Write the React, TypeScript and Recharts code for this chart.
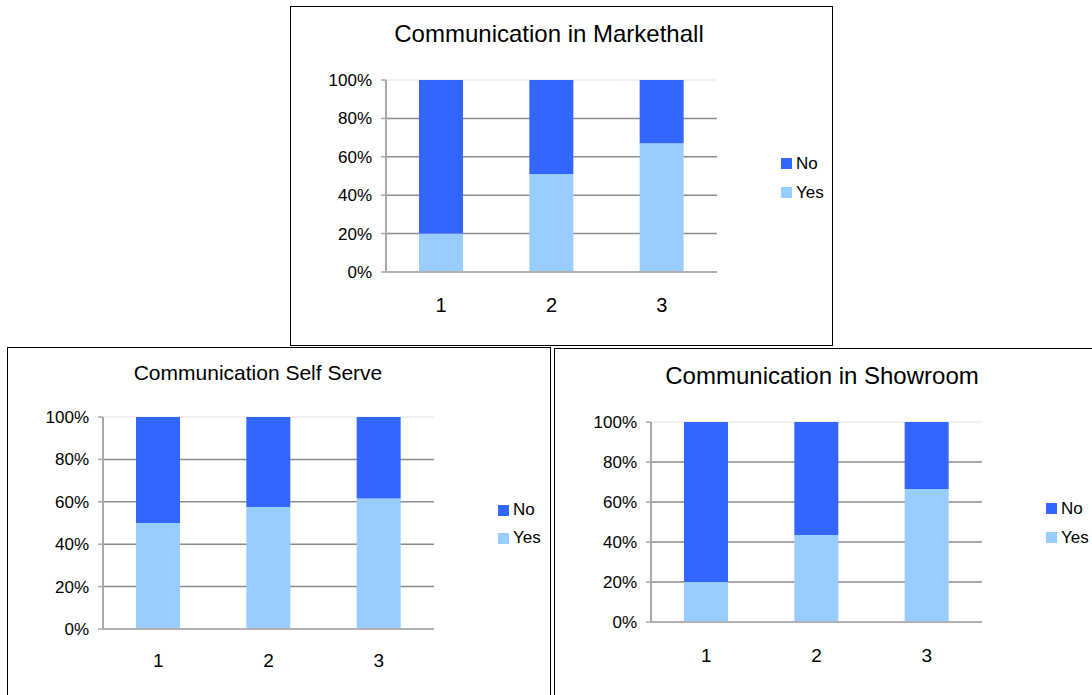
import React from 'react';
import { BarChart, Bar, XAxis, YAxis, CartesianGrid, Legend } from 'recharts';

const categories = ['1', '2', '3'];
const percentTicks = [0, 20, 40, 60, 80, 100];

const markethallYes = [20, 51, 67];
const markethallNo = [80, 49, 33];
const selfServeYes = [50, 57.5, 61.5];
const selfServeNo = [50, 42.5, 38.5];
const showroomYes = [20, 43.5, 66.5];
const showroomNo = [80, 56.5, 33.5];

const NO_COLOR = '#3366FF';
const YES_COLOR = '#99CCFF';
const FONT = '"Liberation Sans", Arial, Helvetica, sans-serif';

const toRows = (yes: number[], no: number[]) =>
  categories.map((name, i) => ({ name, Yes: yes[i], No: no[i] }));

type PanelProps = {
  title: string;
  rows: { name: string; Yes: number; No: number }[];
  box: { left: number; top: number; width: number; height: number };
  titleX: number;
  titleTop: number;
  titleSize: number;
  chartHeight: number;
  margin: { top: number; right: number; bottom: number };
  yWidth: number;
  xTickMargin: number;
  xFont: number;
  legendPos: { left: number; top: number; step: number };
};

function LegendBox({ step }: { step: number }) {
  const items = [
    { label: 'No', color: NO_COLOR },
    { label: 'Yes', color: YES_COLOR },
  ];
  return (
    <div style={{ fontFamily: FONT, fontSize: 17, color: '#000' }}>
      {items.map((it) => (
        <div key={it.label} style={{ height: step, display: 'flex', alignItems: 'center' }}>
          <span style={{ width: 11, height: 11, background: it.color, display: 'inline-block', marginRight: 4 }} />
          <span>{it.label}</span>
        </div>
      ))}
    </div>
  );
}

function Panel(p: PanelProps) {
  const innerWidth = p.box.width - 2;
  const plotTop = p.margin.top;
  return (
    <div
      style={{
        position: 'absolute',
        left: p.box.left,
        top: p.box.top,
        width: p.box.width,
        height: p.box.height,
        border: '1px solid #000',
        boxSizing: 'border-box',
        background: '#fff',
      }}
    >
      <div
        style={{
          position: 'absolute',
          left: p.titleX - 250,
          width: 500,
          top: p.titleTop,
          textAlign: 'center',
          fontFamily: FONT,
          fontSize: p.titleSize,
          lineHeight: `${p.titleSize}px`,
          color: '#000',
          whiteSpace: 'nowrap',
        }}
      >
        {p.title}
      </div>
      <BarChart
        width={innerWidth}
        height={p.chartHeight}
        data={p.rows}
        margin={{ top: p.margin.top, right: p.margin.right, bottom: p.margin.bottom, left: 0 }}
        barCategoryGap="30%"
      >
        <CartesianGrid
          vertical={false}
          horizontal={(g: any) => (
            <line
              key={`g-${g.y1}`}
              x1={g.x1}
              y1={g.y1}
              x2={g.x2}
              y2={g.y2}
              stroke={Math.abs(g.y1 - plotTop) < 1 ? '#ececec' : '#8a8a8a'}
              strokeWidth={1.5}
              fill="none"
            />
          )}
        />
        <XAxis
          dataKey="name"
          tickLine={false}
          tickSize={0}
          tickMargin={p.xTickMargin}
          height={40}
          axisLine={{ stroke: '#b0b0b0', strokeWidth: 2 }}
          tick={{ fill: '#000', fontSize: p.xFont, fontFamily: FONT }}
        />
        <YAxis
          domain={[0, 100]}
          ticks={percentTicks}
          interval={0}
          width={p.yWidth}
          tickFormatter={(v: number) => `${v}%`}
          tickSize={5}
          tickMargin={9}
          axisLine={{ stroke: '#a8a8a8', strokeWidth: 2 }}
          tickLine={{ stroke: '#a8a8a8', strokeWidth: 1.5 }}
          tick={{ fill: '#000', fontSize: 17, fontFamily: FONT }}
        />
        <Legend
          layout="vertical"
          align="center"
          verticalAlign="middle"
          wrapperStyle={{ left: p.legendPos.left, top: p.legendPos.top, width: 80 }}
          content={() => <LegendBox step={p.legendPos.step} />}
        />
        <Bar dataKey="Yes" stackId="s" fill={YES_COLOR} barSize={44} isAnimationActive={false} />
        <Bar dataKey="No" stackId="s" fill={NO_COLOR} barSize={44} isAnimationActive={false} />
      </BarChart>
    </div>
  );
}

export default function App() {
  return (
    <div
      style={{
        position: 'absolute',
        left: 0,
        top: 0,
        width: 1092,
        height: 695,
        overflow: 'hidden',
        background: '#fff',
      }}
    >
      <Panel
        title="Communication in Markethall"
        rows={toRows(markethallYes, markethallNo)}
        box={{ left: 290, top: 6, width: 543, height: 340 }}
        titleX={258}
        titleTop={15}
        titleSize={24}
        chartHeight={338}
        margin={{ top: 73, right: 115, bottom: 33 }}
        yWidth={95}
        xTickMargin={26}
        xFont={20}
        legendPos={{ left: 490, top: 142, step: 29 }}
      />
      <Panel
        title="Communication Self Serve"
        rows={toRows(selfServeYes, selfServeNo)}
        box={{ left: 7, top: 347, width: 544, height: 360 }}
        titleX={250}
        titleTop={14}
        titleSize={21}
        chartHeight={347}
        margin={{ top: 69, right: 116, bottom: 26 }}
        yWidth={95}
        xTickMargin={25}
        xFont={19}
        legendPos={{ left: 490, top: 148, step: 28 }}
      />
      <Panel
        title="Communication in Showroom"
        rows={toRows(showroomYes, showroomNo)}
        box={{ left: 554, top: 348, width: 545, height: 360 }}
        titleX={267}
        titleTop={15}
        titleSize={24}
        chartHeight={346}
        margin={{ top: 73, right: 116, bottom: 33 }}
        yWidth={96}
        xTickMargin={27}
        xFont={19}
        legendPos={{ left: 491, top: 145, step: 29 }}
      />
    </div>
  );
}
